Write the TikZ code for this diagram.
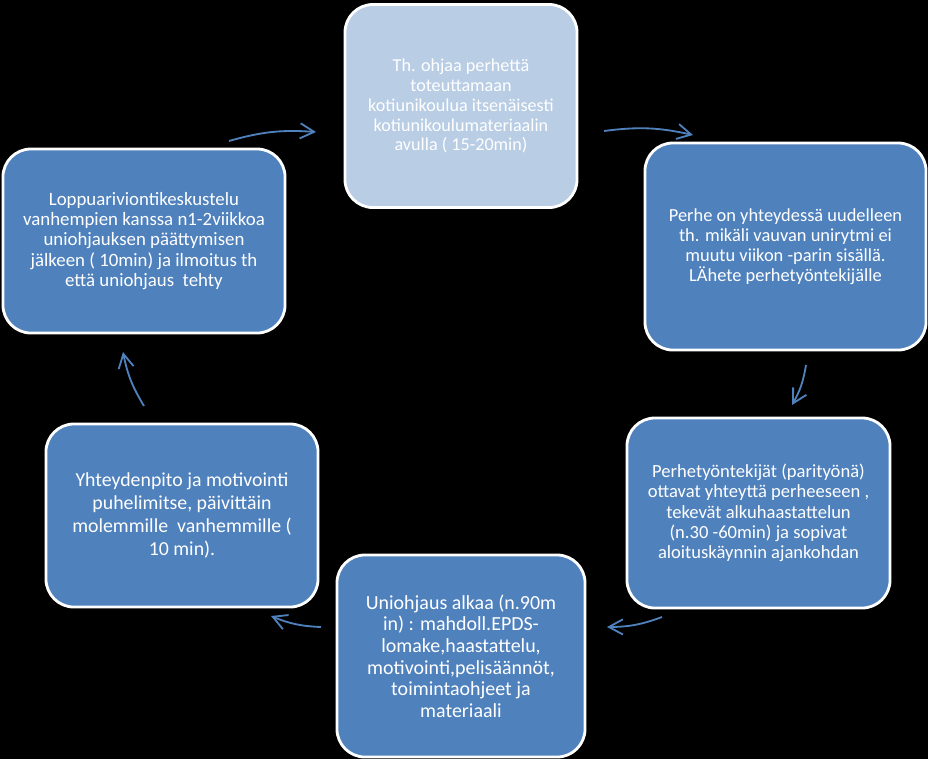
\documentclass[tikz,border=0pt]{standalone}
\usepackage{fontspec}
\setmainfont{Carlito}
\usetikzlibrary{arrows.meta}
\definecolor{unidark}{RGB}{0, 0, 0}
\definecolor{uniblue}{RGB}{79, 129, 189}
\definecolor{unilight}{RGB}{185, 205, 229}

\begin{document}
\begin{tikzpicture}[x=0.025cm, y=-0.025cm,
        box/.style={rectangle, rounded corners=0.7cm, draw=white, line width=2pt, fill=uniblue, text=white, inner sep=0pt, align=center},
        lightbox/.style={box, fill=unilight},
        arr/.style={-{Straight Barb[length=3.5mm, width=3.8mm]}, uniblue, line width=1.3pt, bend left=10}
    ]
        \fill[unidark] (0,0) rectangle (928,759);

        \node[lightbox, minimum width=5.8cm, minimum height=5.075cm, font=\fontsize{12.9}{14.2}\selectfont] (b1) at (461,106) {Th. ohjaa perhettä\\toteuttamaan\\kotiunikoulua itsenäisesti\\kotiunikoulumateriaalin\\avulla ( 15-20min)};
        \node[box, minimum width=7.025cm, minimum height=5.175cm, font=\fontsize{13.1}{14.2}\selectfont] (b2) at (785.5,246.5) {Perhe on yhteydessä uudelleen\\th. mikäli vauvan unirytmi ei\\muutu viikon -parin sisällä.\\LÄhete perhetyöntekijälle};
        \node[box, minimum width=6.575cm, minimum height=4.75cm, font=\fontsize{13.2}{14.5}\selectfont] (b3) at (758.5,513) {Perhetyöntekijät (parityönä)\\ottavat yhteyttä perheeseen ,\\tekevät alkuhaastattelun\\(n.30 -60min) ja sopivat\\aloituskäynnin ajankohdan};
        \node[box, minimum width=6.2cm, minimum height=5.05cm, font=\fontsize{14.2}{15.4}\selectfont] (b4) at (461,656) {Uniohjaus alkaa (n.90m\\in) : mahdoll.EPDS-\\lomake,haastattelu,\\motivointi,pelisäännöt,\\toimintaohjeet ja\\materiaali};
        \node[box, minimum width=6.8cm, minimum height=4.575cm, font=\fontsize{14.1}{16.3}\selectfont] (b5) at (182,515.5) {Yhteydenpito ja motivointi\\puhelimitse, päivittäin\\molemmille\ \ vanhemmille (\\10 min).};
        \node[box, minimum width=7.05cm, minimum height=4.6cm, font=\fontsize{13.4}{14.5}\selectfont] (b6) at (144,241) {Loppuariviontikeskustelu\\vanhempien kanssa n1-2viikkoa\\uniohjauksen päättymisen\\jälkeen ( 10min) ja ilmoitus th\\että uniohjaus\ \ tehty};

        % arrow ends between the boxes
        \coordinate (a1s) at (229,141);  \coordinate (a1e) at (316,132);
        \coordinate (a2s) at (604,131);  \coordinate (a2e) at (693,135);
        \coordinate (a3s) at (806,365);  \coordinate (a3e) at (792,405);
        \coordinate (a4s) at (662,617);  \coordinate (a4e) at (607,627);
        \coordinate (a5s) at (321,627);  \coordinate (a5e) at (271,616);
        \coordinate (a6s) at (144,406);  \coordinate (a6e) at (123,352);

        \draw[arr] (a1s) to (a1e);
        \draw[arr] (a2s) to (a2e);
        \draw[arr] (a3s) to (a3e);
        \draw[arr] (a4s) to (a4e);
        \draw[arr] (a5s) to (a5e);
        \draw[arr] (a6s) to (a6e);
    \end{tikzpicture}
\end{document}
